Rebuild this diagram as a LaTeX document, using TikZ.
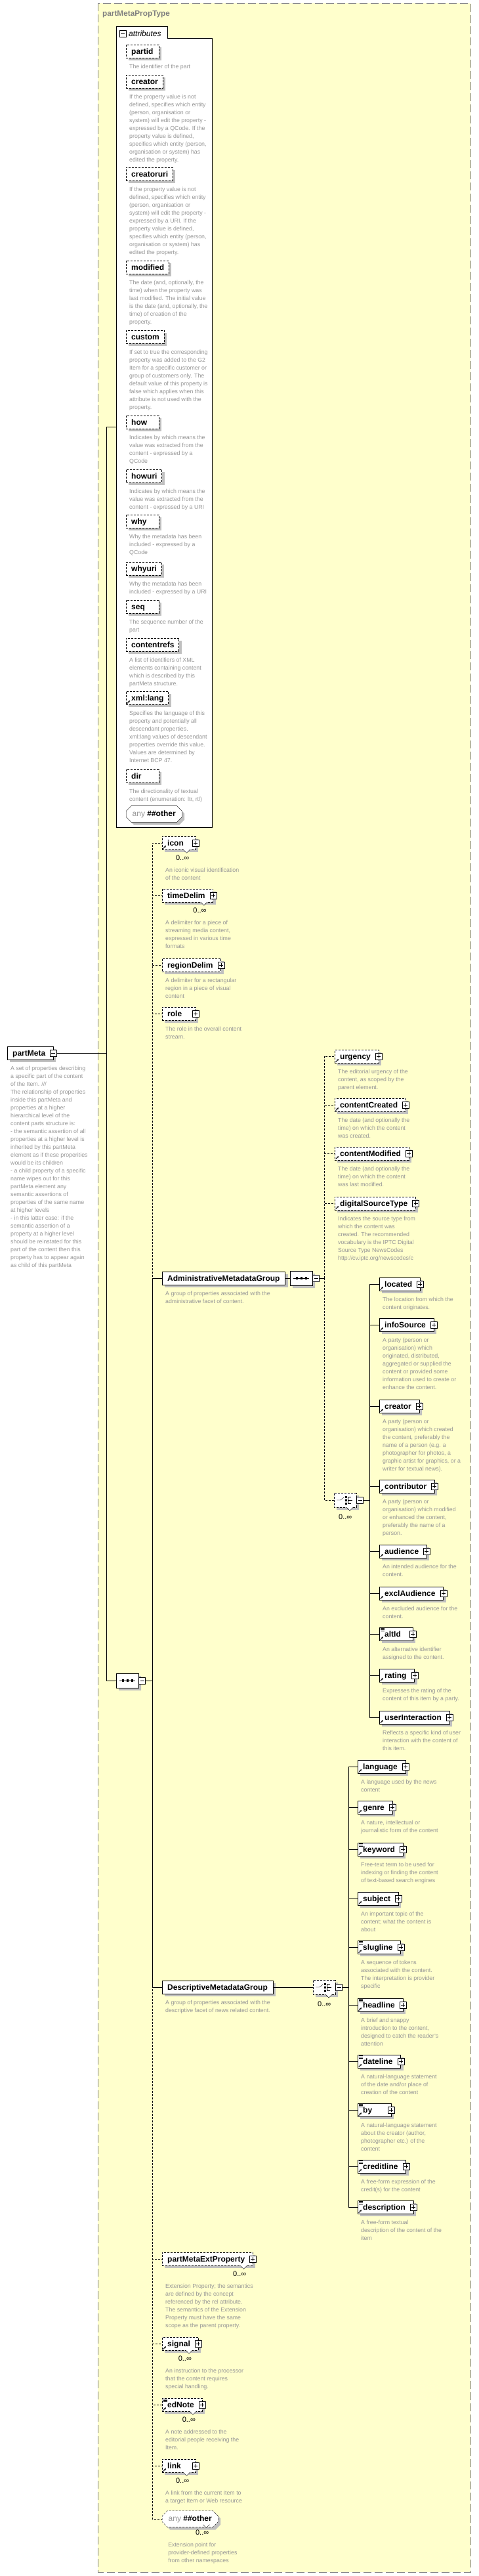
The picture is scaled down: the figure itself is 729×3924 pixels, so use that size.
\documentclass[tikz,border=0pt]{standalone}
\usepackage{fontspec}
\setmainfont{Liberation Sans}
\usetikzlibrary{shadows,shapes.misc,arrows.meta}
\definecolor{xsdyellow}{RGB}{255,255,204}
\definecolor{descgray}{RGB}{150,150,150}
\definecolor{shadowgray}{RGB}{192,192,192}
\definecolor{framegray}{RGB}{128,128,128}

\newcommand\namefont{\fontsize{12}{14}\selectfont\bfseries}
\newcommand\descfont{\fontsize{8.8}{12}\selectfont}
\newcommand\occfont{\fontsize{11}{13}\selectfont}

\tikzset{
  elembox/.style={draw, fill=white, minimum height=20pt, inner sep=0pt,
    font=\namefont, text height=9.5pt, text depth=1.5pt,
    drop shadow={shadow xshift=4pt, shadow yshift=-4pt, fill=shadowgray, opacity=1}},
  opt/.style={dash pattern=on 3pt off 2pt},
  optline/.style={dash pattern=on 3pt off 2pt},
  desctext/.style={inner sep=0pt, font=\descfont, text=descgray},
  minusbtn/.style={draw, fill=white, minimum size=10pt, inner sep=0pt,
    path picture={\draw ([xshift=2pt]path picture bounding box.west) -- ([xshift=-2pt]path picture bounding box.east);}},
  plusbtn/.style={draw, fill=white, minimum size=10pt, inner sep=0pt,
    path picture={\draw ([xshift=2pt]path picture bounding box.west) -- ([xshift=-2pt]path picture bounding box.east)
      ([yshift=2pt]path picture bounding box.south) -- ([yshift=-2pt]path picture bounding box.north);}},
  compo/.style={chamfered rectangle, chamfered rectangle xsep=5pt, chamfered rectangle ysep=5pt,
    draw, fill=white, minimum width=34pt, minimum height=22pt, inner sep=0pt,
    drop shadow={shadow xshift=4pt, shadow yshift=-4pt, fill=shadowgray, opacity=1}},
  anybox/.style={chamfered rectangle, chamfered rectangle xsep=4pt, chamfered rectangle ysep=4pt,
    draw, fill=white, minimum height=20pt, inner xsep=5.5pt, inner ysep=3pt,
    font=\fontsize{12}{14}\selectfont,
    drop shadow={shadow xshift=4pt, shadow yshift=-4pt, fill=shadowgray, opacity=1}},
  refarrow/.style={line width=0.9pt, -{Stealth[length=3pt,width=3pt]}},
}

% element box: [style] name, west point, label
\newcommand\elem[4][]{%
  \node[elembox, #1, anchor=west] (#2) at (#3)
    {\setbox0=\hbox{#4}\ifdim\wd0<31pt\makebox[51pt][l]{\kern8pt#4}\else\kern8pt#4\kern12pt\fi};}
% group box: name, west point, label
\newcommand\grp[3]{%
  \node[elembox, anchor=west] (#1) at (#2) {\kern8pt#3\kern8pt};}
% attribute box: name, y, label
\newcommand\attr[3]{%
  \node[elembox, opt, anchor=west] (#1) at (192,#2)
    {\setbox0=\hbox{#3}\ifdim\wd0<35pt\makebox[50pt][l]{\kern8pt#3}\else\kern8pt#3\kern7pt\fi};}
\newcommand\plus[1]{\node[plusbtn] (#1-p) at (#1.east) {};}
\newcommand\refarr[1]{\draw[refarrow] ([xshift=1.5pt,yshift=1.5pt]#1.south west) -- ++(4.5pt,4.5pt);}
\newcommand\txtlines[1]{\draw[line width=0.6pt]
  ([xshift=2pt,yshift=-1.5pt]#1.north west) -- ++(6pt,0pt)
  ([xshift=2pt,yshift=-3.3pt]#1.north west) -- ++(6pt,0pt)
  ([xshift=2pt,yshift=-5.1pt]#1.north west) -- ++(6pt,0pt);}
\newcommand\occ[1]{%
  \draw[fill=white] ([xshift=-19pt]#1.south east) -- ([xshift=-14pt,yshift=-5pt]#1.south east) -- ([xshift=-9pt]#1.south east);
  \node[inner sep=0pt, font=\occfont, anchor=base east] (#1-o) at ([xshift=-10pt,yshift=-16pt]#1.south east) {0..∞};}
\newcommand\desc[3][-16pt]{%
  \node[desctext, anchor=base west] (#2-d) at ([xshift=5pt, yshift=#1]#2.south west)
    {\begin{tabular}[t]{@{}l@{}}#3\end{tabular}};}
% compositors: [style] name, west point
\newcommand\seqcompo[3][]{%
  \node[compo, #1, anchor=west] (#2) at (#3) {};
  \draw ([xshift=5pt]#2.west) -- ([xshift=-5pt]#2.east);
  \foreach \dx in {-7,0,7} \fill ([xshift=\dx pt]#2.center) +(-1.6pt,-1.6pt) rectangle +(1.6pt,1.6pt);
  \node[minusbtn, anchor=west] (#2-m) at (#2.east) {};}
\newcommand\chocompo[3][]{%
  \node[compo, #1, anchor=west] (#2) at (#3) {};
  \draw ([xshift=4pt]#2.west) -- ([xshift=10pt]#2.west) -- ++(5pt,4pt);
  \foreach \dy in {-5,0,5} \fill ([xshift=1pt,yshift=\dy pt]#2.center) +(-1.5pt,-1.5pt) rectangle +(1.5pt,1.5pt);
  \draw ([xshift=4pt,yshift=5pt]#2.center) -- ([xshift=4pt,yshift=-5pt]#2.center)
    ([xshift=4pt,yshift=5pt]#2.center) -- ++(5pt,0pt)
    ([xshift=4pt]#2.center) -- ++(7pt,0pt)
    ([xshift=4pt,yshift=-5pt]#2.center) -- ++(5pt,0pt);
  \node[minusbtn, anchor=west] (#2-m) at (#2.east) {};}
\newcommand\compocc[1]{%
  \draw[fill=white] ([xshift=2pt]#1.south) -- ([xshift=7pt,yshift=-5pt]#1.south) -- ([xshift=12pt]#1.south);
  \node[inner sep=0pt, font=\occfont, anchor=base] (#1-o) at ([yshift=-18pt]#1.south) {0..∞};}

\begin{document}
\begin{tikzpicture}[x=1pt,y=-1pt]
\useasboundingbox (0,0) rectangle (729,3924);

% complex type frame
\draw[framegray, dash pattern=on 12pt off 5pt, fill=xsdyellow] (149,5) rectangle (717,3918);
\node[anchor=base west, inner sep=0pt, text=framegray, font=\fontsize{11.8}{14}\selectfont\bfseries] (ptype) at (156,24) {partMetaPropType};

% attributes
\draw[fill=white] (177,1260) -- (177,40) -- (255,40) -- (255,58) -- (323,58) -- (323,1260) -- cycle;
\node[minusbtn] (attr-m) at (187,51) {};
\node[anchor=base west, inner sep=0pt, font=\fontsize{12}{14}\selectfont\itshape] (attr-l) at (196,55) {attributes};
\coordinate (attr-w) at (177,650);

\attr{partid}{78}{partid}
\desc{partid}{The identifier of the part}
\attr{creator}{124}{creator}
\desc{creator}{If the property value is not\\defined, specifies which entity\\(person, organisation or\\system) will edit the property -\\expressed by a QCode. If the\\property value is defined,\\specifies which entity (person,\\organisation or system) has\\edited the property.}
\attr{creatoruri}{265}{creatoruri}
\desc{creatoruri}{If the property value is not\\defined, specifies which entity\\(person, organisation or\\system) will edit the property -\\expressed by a URI. If the\\property value is defined,\\specifies which entity (person,\\organisation or system) has\\edited the property.}
\attr{modified}{407}{modified}
\desc{modified}{The date (and, optionally, the\\time) when the property was\\last modified. The initial value\\is the date (and, optionally, the\\time) of creation of the\\property.}
\attr{custom}{513}{custom}
\desc{custom}{If set to true the corresponding\\property was added to the G2\\Item for a specific customer or\\group of customers only. The\\default value of this property is\\false which applies when this\\attribute is not used with the\\property.}
\attr{how}{643}{how}
\desc{how}{Indicates by which means the\\value was extracted from the\\content - expressed by a\\QCode}
\attr{howuri}{725}{howuri}
\desc{howuri}{Indicates by which means the\\value was extracted from the\\content - expressed by a URI}
\attr{why}{794}{why}
\desc{why}{Why the metadata has been\\included - expressed by a\\QCode}
\attr{whyuri}{866}{whyuri}
\desc{whyuri}{Why the metadata has been\\included - expressed by a URI}
\attr{seq}{924}{seq}
\desc{seq}{The sequence number of the\\part}
\attr{contentrefs}{982}{contentrefs}
\desc{contentrefs}{A list of identifiers of XML\\elements containing content\\which is described by this\\partMeta structure.}
\attr{xmllang}{1063}{xml:lang}
\refarr{xmllang}
\desc{xmllang}{Specifies the language of this\\property and potentially all\\descendant properties.\\xml:lang values of descendant\\properties override this value.\\Values are determined by\\Internet BCP 47.}
\attr{dir}{1182}{dir}
\desc{dir}{The directionality of textual\\content (enumeration: ltr, rtl)}
\node[anybox, anchor=west] (attany) at (192,1240) {{\color{descgray}any}\ \textbf{\#\#other}};

% the element
\elem{pmeta}{11,1604}{partMeta}
\node[minusbtn] (pmeta-m) at (pmeta.east) {};
\desc{pmeta}{A set of properties describing\\a specific part of the content\\of the Item. ///\\The relationship of properties\\inside this partMeta and\\properties at a higher\\hierarchical level of the\\content parts structure is:\\- the semantic assertion of all\\properties at a higher level is\\inherited by this partMeta\\element as if these properities\\would be its children\\- a child property of a specific\\name wipes out for this\\partMeta element any\\semantic assertions of\\properties of the same name\\at higher levels\\- in this latter case: if the\\semantic assertion of a\\property at a higher level\\should be reinstated for this\\part of the content then this\\property has to appear again\\as child of this partMeta}

% main sequence
\seqcompo{seq0}{177,2560}
\coordinate (tbus) at (162,1604);
\coordinate (b0) at (232,2560);
\draw (pmeta-m.east) -- (tbus);
\draw (tbus) |- (attr-w);
\draw (tbus) |- (seq0.west);
\draw (seq0-m.east) -- (b0);

\elem[opt]{icon}{247,1284}{icon}
\refarr{icon} \plus{icon} \occ{icon}
\desc[-34pt]{icon}{An iconic visual identification\\of the content}
\elem[opt]{timeDelim}{247,1364}{timeDelim}
\plus{timeDelim} \occ{timeDelim}
\desc[-34pt]{timeDelim}{A delimiter for a piece of\\streaming media content,\\expressed in various time\\formats}
\elem[opt]{regionDelim}{247,1470}{regionDelim}
\plus{regionDelim}
\desc{regionDelim}{A delimiter for a rectangular\\region in a piece of visual\\content}
\elem[opt]{role}{247,1544}{role}
\plus{role}
\desc{role}{The role in the overall content\\stream.}

\grp{admgrp}{247,1947}{AdministrativeMetadataGroup}
\desc{admgrp}{A group of properties associated with the\\administrative facet of content.}
\grp{dscgrp}{247,3027}{DescriptiveMetadataGroup}
\desc{dscgrp}{A group of properties associated with the\\descriptive facet of news related content.}

\elem[opt]{extprop}{247,3441}{partMetaExtProperty}
\plus{extprop} \occ{extprop}
\desc[-34pt]{extprop}{Extension Property; the semantics\\are defined by the concept\\referenced by the rel attribute.\\The semantics of the Extension\\Property must have the same\\scope as the parent property.}
\elem[opt]{signal}{247,3570}{signal}
\refarr{signal} \plus{signal} \occ{signal}
\desc[-34pt]{signal}{An instruction to the processor\\that the content requires\\special handling.}
\elem[opt]{edNote}{247,3663}{edNote}
\txtlines{edNote} \refarr{edNote} \plus{edNote} \occ{edNote}
\desc[-34pt]{edNote}{A note addressed to the\\editorial people receiving the\\Item.}
\elem[opt]{link}{247,3756}{link}
\refarr{link} \plus{link} \occ{link}
\desc[-34pt]{link}{A link from the current Item to\\a target Item or Web resource}
\node[anybox, opt, anchor=west] (anyel) at (247,3837) {{\color{descgray}any}\ \textbf{\#\#other}};
\occ{anyel}
\desc[-34pt]{anyel}{Extension point for\\provider-defined properties\\from other namespaces}

\foreach \n in {icon,timeDelim,regionDelim,role,extprop,signal,edNote,link,anyel}
  \draw[optline] (b0) |- (\n.west);
\foreach \n in {admgrp,dscgrp}
  \draw (b0) |- (\n.west);

% administrative group
\seqcompo{admseq}{442,1947}
\coordinate (b1) at (494,1947);
\draw (admgrp.east) -- (admseq.west);
\draw (admseq-m.east) -- (b1);

\elem[opt]{urgency}{510,1609}{urgency}
\refarr{urgency} \plus{urgency}
\desc{urgency}{The editorial urgency of the\\content, as scoped by the\\parent element.}
\elem[opt]{cCreated}{510,1683}{contentCreated}
\refarr{cCreated} \plus{cCreated}
\desc{cCreated}{The date (and optionally the\\time) on which the content\\was created.}
\elem[opt]{cModified}{510,1757}{contentModified}
\refarr{cModified} \plus{cModified}
\desc{cModified}{The date (and optionally the\\time) on which the content\\was last modified.}
\elem[opt]{dsType}{510,1833}{digitalSourceType}
\refarr{dsType} \plus{dsType}
\desc{dsType}{Indicates the source type from\\which the content was\\created. The recommended\\vocabulary is the IPTC Digital\\Source Type NewsCodes\\http://cv.iptc.org/newscodes/c}
\chocompo[opt]{admcho}{509,2285}
\compocc{admcho}
\coordinate (b2) at (563,2285);
\draw (admcho-m.east) -- (b2);

\foreach \n in {urgency,cCreated,cModified,dsType,admcho}
  \draw[optline] (b1) |- (\n.west);

\elem{located}{578,1956}{located}
\refarr{located} \plus{located}
\desc{located}{The location from which the\\content originates.}
\elem{infoSource}{578,2018}{infoSource}
\refarr{infoSource} \plus{infoSource}
\desc{infoSource}{A party (person or\\organisation) which\\originated, distributed,\\aggregated or supplied the\\content or provided some\\information used to create or\\enhance the content.}
\elem{crtr}{578,2142}{creator}
\refarr{crtr} \plus{crtr}
\desc{crtr}{A party (person or\\organisation) which created\\the content, preferably the\\name of a person (e.g. a\\photographer for photos, a\\graphic artist for graphics, or a\\writer for textual news).}
\elem{contributor}{578,2264}{contributor}
\refarr{contributor} \plus{contributor}
\desc{contributor}{A party (person or\\organisation) which modified\\or enhanced the content,\\preferably the name of a\\person.}
\elem{audience}{578,2363}{audience}
\refarr{audience} \plus{audience}
\desc{audience}{An intended audience for the\\content.}
\elem{exclAudience}{578,2427}{exclAudience}
\refarr{exclAudience} \plus{exclAudience}
\desc{exclAudience}{An excluded audience for the\\content.}
\elem{altId}{578,2489}{altId}
\txtlines{altId} \refarr{altId} \plus{altId}
\desc{altId}{An alternative identifier\\assigned to the content.}
\elem{rating}{578,2552}{rating}
\refarr{rating} \plus{rating}
\desc{rating}{Expresses the rating of the\\content of this item by a party.}
\elem{userInter}{578,2616}{userInteraction}
\refarr{userInter} \plus{userInter}
\desc{userInter}{Reflects a specific kind of user\\interaction with the content of\\this item.}

\foreach \n in {located,infoSource,crtr,contributor,audience,exclAudience,altId,rating,userInter}
  \draw (b2) |- (\n.west);

% descriptive group
\chocompo[opt]{dsccho}{477,3027}
\compocc{dsccho}
\coordinate (b3) at (531,3027);
\draw (dscgrp.east) -- (dsccho.west);
\draw (dsccho-m.east) -- (b3);

\elem{language}{545,2691}{language}
\refarr{language} \plus{language}
\desc{language}{A language used by the news\\content}
\elem{genre}{545,2753}{genre}
\refarr{genre} \plus{genre}
\desc{genre}{A nature, intellectual or\\journalistic form of the content}
\elem{keyword}{545,2817}{keyword}
\txtlines{keyword} \refarr{keyword} \plus{keyword}
\desc{keyword}{Free-text term to be used for\\indexing or finding the content\\of text-based search engines}
\elem{subject}{545,2892}{subject}
\refarr{subject} \plus{subject}
\desc{subject}{An important topic of the\\content; what the content is\\about}
\elem{slugline}{545,2966}{slugline}
\txtlines{slugline} \refarr{slugline} \plus{slugline}
\desc{slugline}{A sequence of tokens\\associated with the content.\\The interpretation is provider\\specific}
\elem{headline}{545,3054}{headline}
\txtlines{headline} \refarr{headline} \plus{headline}
\desc{headline}{A brief and snappy\\introduction to the content,\\designed to catch the reader's\\attention}
\elem{dateline}{545,3140}{dateline}
\txtlines{dateline} \refarr{dateline} \plus{dateline}
\desc{dateline}{A natural-language statement\\of the date and/or place of\\creation of the content}
\elem{by}{545,3214}{by}
\txtlines{by} \refarr{by} \plus{by}
\desc{by}{A natural-language statement\\about the creator (author,\\photographer etc.) of the\\content}
\elem{creditline}{545,3300}{creditline}
\txtlines{creditline} \refarr{creditline} \plus{creditline}
\desc{creditline}{A free-form expression of the\\credit(s) for the content}
\elem{description}{545,3362}{description}
\txtlines{description} \refarr{description} \plus{description}
\desc{description}{A free-form textual\\description of the content of the\\item}

\foreach \n in {language,genre,keyword,subject,slugline,headline,dateline,by,creditline,description}
  \draw (b3) |- (\n.west);
\end{tikzpicture}
\end{document}
